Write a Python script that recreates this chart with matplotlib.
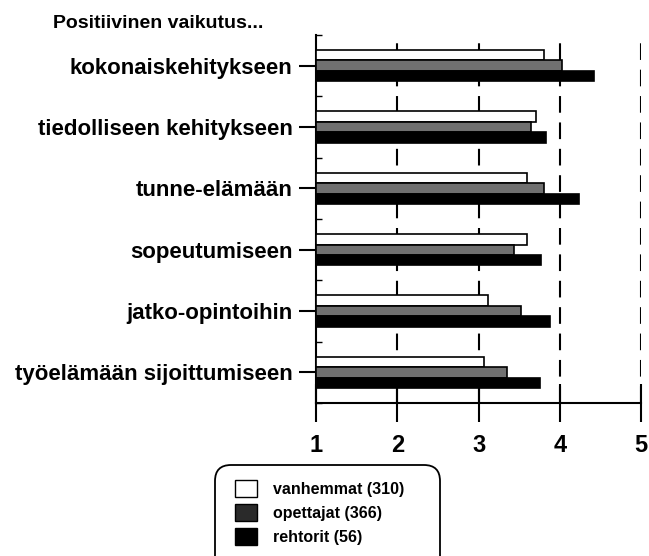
import matplotlib.pyplot as plt
from matplotlib.patches import FancyBboxPatch
import numpy as np

plt.rcParams["font.family"] = ["Liberation Sans", "DejaVu Sans"]
plt.rcParams["font.weight"] = "bold"
plt.rcParams["lines.scale_dashes"] = False

kategoriat = ["kokonaiskehitykseen", "tiedolliseen kehitykseen", "tunne-elämään",
              "sopeutumiseen", "jatko-opintoihin", "työelämään sijoittumiseen"]
vanhemmat = [3.81, 3.71, 3.59, 3.60, 3.11, 3.07]
opettajat = [4.03, 3.64, 3.81, 3.44, 3.52, 3.35]
rehtorit = [4.42, 3.83, 4.23, 3.77, 3.88, 3.75]
sarjat = ["vanhemmat (310)", "opettajat (366)", "rehtorit (56)"]
asteikko = [1, 2, 3, 4, 5]

fig = plt.figure(figsize=(6.49, 5.56), dpi=100)
ax = fig.add_axes([0.487, 0.275, 0.501, 0.662])

y = np.arange(len(kategoriat))
h = 0.17
ax.barh(y - h, np.array(vanhemmat) - 1, left=1, height=h, color="white", edgecolor="black", linewidth=1.2, zorder=3, label=sarjat[0])
ax.barh(y, np.array(opettajat) - 1, left=1, height=h, color="#707070", edgecolor="black", linewidth=1.2, zorder=3, label=sarjat[1])
ax.barh(y + h, np.array(rehtorit) - 1, left=1, height=h, color="black", edgecolor="black", linewidth=1.2, zorder=3, label=sarjat[2])

for x in asteikko[1:]:
    ax.axvline(x, color="black", lw=1.5, dashes=(12, 7), zorder=1)

ax.set_xlim(1, 5)
ax.set_ylim(len(kategoriat) - 0.5, -0.5)
ax.set_yticks(y)
ax.set_yticklabels(kategoriat)
ax.set_yticks(np.arange(len(kategoriat) + 1) - 0.5, minor=True)
ax.set_xticks(asteikko)
ax.set_xticklabels([str(v) for v in asteikko])

for s in ["top", "right"]:
    ax.spines[s].set_visible(False)
ax.spines["left"].set_linewidth(1.5)
ax.spines["bottom"].set_linewidth(1.5)
ax.tick_params(axis="y", which="major", direction="out", length=12, width=1.5, pad=5, labelsize=16)
ax.tick_params(axis="y", which="minor", direction="in", length=4, width=1)
ax.tick_params(axis="x", direction="inout", length=27, width=1.5, pad=9, labelsize=17)

fig.text(53 / 649, 1 - 24 / 556, "Positiivinen vaikutus...", fontsize=14, fontweight="bold", va="center")

# selitteen kehys erikseen, pyöristetyt kulmat
kehys = FancyBboxPatch((2.15, -0.2), 2.25, 1.11, boxstyle="round,pad=0,rounding_size=0.16",
                       transform=fig.dpi_scale_trans, facecolor="white", edgecolor="black", linewidth=1.3)
fig.patches.append(kehys)

leg = fig.legend(loc="upper left", bbox_to_anchor=(235 / 649, 1 - 480 / 556), fontsize=11.5,
                 frameon=False, handlelength=1.4, handleheight=1.25,
                 borderpad=0, labelspacing=0.45, handletextpad=1.0, borderaxespad=0)
kahvat = leg.get_patches()
for p in kahvat:
    p.set_linewidth(1)
kahvat[1].set_facecolor("#2a2a2a")

fig.savefig("out.png", dpi=100)
